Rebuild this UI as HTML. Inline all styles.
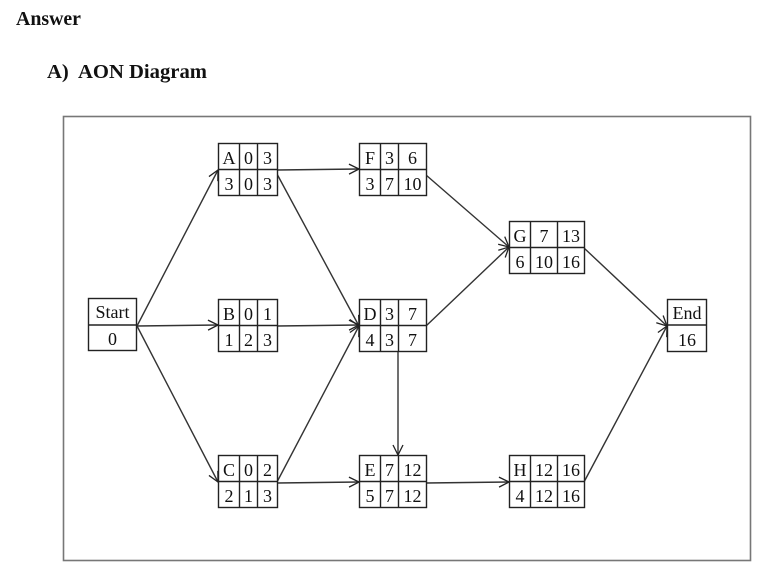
<!DOCTYPE html>
<html><head><meta charset="utf-8"><style>
html,body{margin:0;padding:0;background:#fff;width:761px;height:579px;overflow:hidden}
svg{display:block}
text{font-family:"Liberation Serif",serif;fill:#111}
</style></head><body>
<svg width="761" height="579" viewBox="0 0 761 579" xmlns="http://www.w3.org/2000/svg">
<defs>
<marker id="ah" viewBox="0 0 12 12" refX="11" refY="6" markerWidth="12" markerHeight="12" markerUnits="userSpaceOnUse" orient="auto">
<path d="M1,1 L11,6 L1,11" fill="none" stroke="#222" stroke-width="1.3"/>
</marker>
</defs>
<text x="16" y="25" font-size="19.5" font-weight="bold" textLength="65" lengthAdjust="spacingAndGlyphs">Answer</text>
<text x="47" y="78" font-size="20" font-weight="bold" xml:space="preserve" textLength="160" lengthAdjust="spacingAndGlyphs">A)  AON Diagram</text>
<rect x="63.5" y="116.5" width="687" height="444" fill="none" stroke="#777" stroke-width="1.6"/>

<g stroke="#333" stroke-width="1.4" fill="none" marker-end="url(#ah)">
<line x1="137" y1="326" x2="218" y2="170"/>
<line x1="137" y1="326" x2="218" y2="325"/>
<line x1="137" y1="326" x2="218" y2="482"/>
<line x1="277" y1="170" x2="359" y2="169"/>
<line x1="277" y1="174" x2="359" y2="326"/>
<line x1="277" y1="326" x2="359" y2="325"/>
<line x1="277" y1="482" x2="359" y2="326"/>
<line x1="277" y1="483" x2="359" y2="482"/>
<line x1="398" y1="352" x2="398" y2="455"/>
<line x1="426" y1="175" x2="509" y2="247"/>
<line x1="426" y1="326" x2="509" y2="247"/>
<line x1="426" y1="483" x2="509" y2="482"/>
<line x1="584" y1="248" x2="667" y2="326"/>
<line x1="584" y1="482" x2="667" y2="326"/>
</g>

<g stroke="#222" stroke-width="1.4" fill="#fff">
<rect x="88.5" y="298.5" width="48" height="52"/><line x1="88.5" y1="325" x2="136.5" y2="325"/>
<rect x="667.5" y="299.5" width="39" height="52"/><line x1="667.5" y1="325" x2="706.5" y2="325"/>
</g>
<g font-size="18" text-anchor="middle">
<text x="112.5" y="318">Start</text><text x="112.5" y="345">0</text>
<text x="687" y="319">End</text><text x="687" y="346">16</text>
</g>

<g stroke="#222" stroke-width="1.4" fill="#fff">
<rect x="218.5" y="143.5" width="59" height="52"/><line x1="218.5" y1="169.5" x2="277.5" y2="169.5"/><line x1="239.5" y1="143.5" x2="239.5" y2="195.5"/><line x1="257.5" y1="143.5" x2="257.5" y2="195.5"/>
<rect x="218.5" y="299.5" width="59" height="52"/><line x1="218.5" y1="325.5" x2="277.5" y2="325.5"/><line x1="239.5" y1="299.5" x2="239.5" y2="351.5"/><line x1="257.5" y1="299.5" x2="257.5" y2="351.5"/>
<rect x="218.5" y="455.5" width="59" height="52"/><line x1="218.5" y1="481.5" x2="277.5" y2="481.5"/><line x1="239.5" y1="455.5" x2="239.5" y2="507.5"/><line x1="257.5" y1="455.5" x2="257.5" y2="507.5"/>
<rect x="359.5" y="143.5" width="67" height="52"/><line x1="359.5" y1="169.5" x2="426.5" y2="169.5"/><line x1="380.5" y1="143.5" x2="380.5" y2="195.5"/><line x1="398.5" y1="143.5" x2="398.5" y2="195.5"/>
<rect x="359.5" y="299.5" width="67" height="52"/><line x1="359.5" y1="325.5" x2="426.5" y2="325.5"/><line x1="380.5" y1="299.5" x2="380.5" y2="351.5"/><line x1="398.5" y1="299.5" x2="398.5" y2="351.5"/>
<rect x="359.5" y="455.5" width="67" height="52"/><line x1="359.5" y1="481.5" x2="426.5" y2="481.5"/><line x1="380.5" y1="455.5" x2="380.5" y2="507.5"/><line x1="398.5" y1="455.5" x2="398.5" y2="507.5"/>
<rect x="509.5" y="221.5" width="75" height="52"/><line x1="509.5" y1="247.5" x2="584.5" y2="247.5"/><line x1="530.5" y1="221.5" x2="530.5" y2="273.5"/><line x1="557.5" y1="221.5" x2="557.5" y2="273.5"/>
<rect x="509.5" y="455.5" width="75" height="52"/><line x1="509.5" y1="481.5" x2="584.5" y2="481.5"/><line x1="530.5" y1="455.5" x2="530.5" y2="507.5"/><line x1="557.5" y1="455.5" x2="557.5" y2="507.5"/>
</g>

<g font-size="18" text-anchor="middle">
<text x="229" y="164">A</text><text x="248.5" y="164">0</text><text x="267.5" y="164">3</text>
<text x="229" y="190">3</text><text x="248.5" y="190">0</text><text x="267.5" y="190">3</text>

<text x="229" y="320">B</text><text x="248.5" y="320">0</text><text x="267.5" y="320">1</text>
<text x="229" y="346">1</text><text x="248.5" y="346">2</text><text x="267.5" y="346">3</text>

<text x="229" y="476">C</text><text x="248.5" y="476">0</text><text x="267.5" y="476">2</text>
<text x="229" y="502">2</text><text x="248.5" y="502">1</text><text x="267.5" y="502">3</text>

<text x="370" y="164">F</text><text x="389.5" y="164">3</text><text x="412.5" y="164">6</text>
<text x="370" y="190">3</text><text x="389.5" y="190">7</text><text x="412.5" y="190">10</text>

<text x="370" y="320">D</text><text x="389.5" y="320">3</text><text x="412.5" y="320">7</text>
<text x="370" y="346">4</text><text x="389.5" y="346">3</text><text x="412.5" y="346">7</text>

<text x="370" y="476">E</text><text x="389.5" y="476">7</text><text x="412.5" y="476">12</text>
<text x="370" y="502">5</text><text x="389.5" y="502">7</text><text x="412.5" y="502">12</text>

<text x="520" y="242">G</text><text x="544" y="242">7</text><text x="571" y="242">13</text>
<text x="520" y="268">6</text><text x="544" y="268">10</text><text x="571" y="268">16</text>

<text x="520" y="476">H</text><text x="544" y="476">12</text><text x="571" y="476">16</text>
<text x="520" y="502">4</text><text x="544" y="502">12</text><text x="571" y="502">16</text>
</g>
</svg>
</body></html>
